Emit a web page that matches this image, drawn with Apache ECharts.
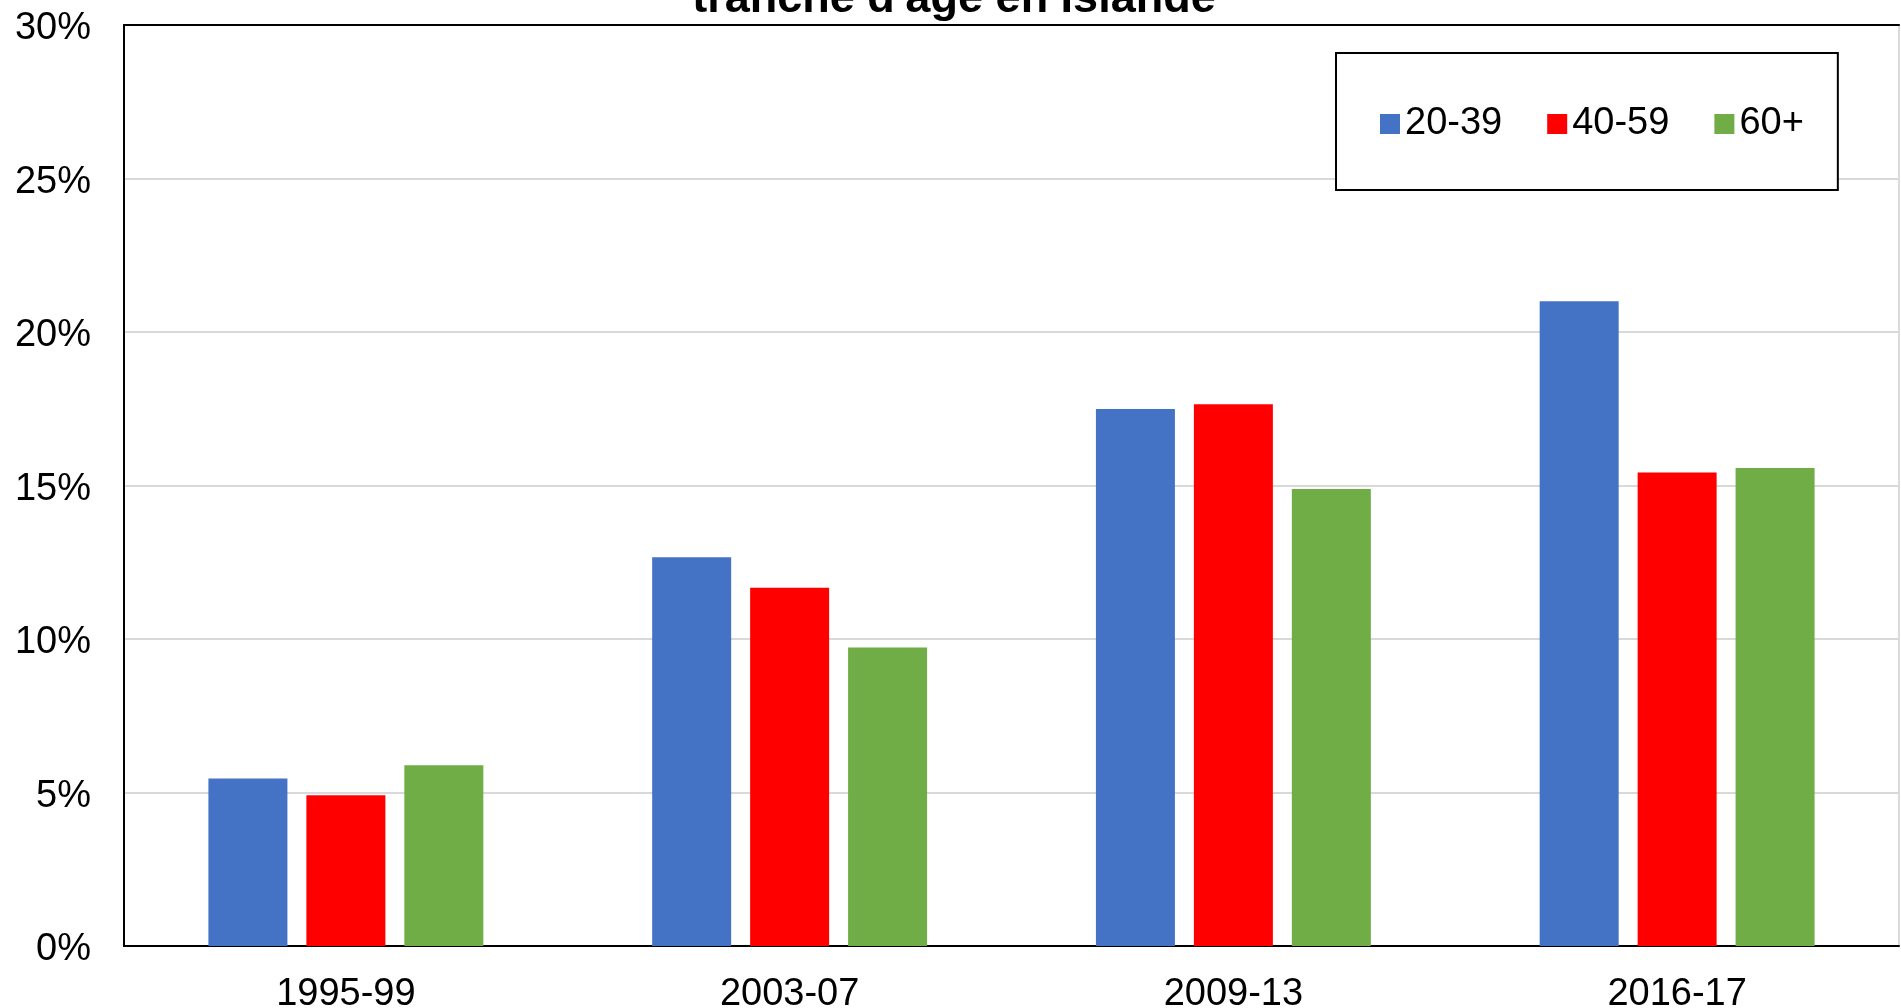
<!DOCTYPE html>
<html>
<head>
<meta charset="utf-8">
<script src="https://cdn.jsdelivr.net/npm/echarts@6/dist/echarts.min.js"></script>
<style>
html,body{margin:0;padding:0;background:#fff;}
#chart{width:1901px;height:1008px;}
</style>
</head>
<body>
<div id="chart"></div>
<script>
const categories = ['1995-99', '2003-07', '2009-13', '2016-17'];
const seriesNames = ['20-39', '40-59', '60+'];
const values2039 = [5.46, 12.66, 17.49, 21.0];
const values4059 = [4.91, 11.67, 17.65, 15.42];
const values60p = [5.89, 9.72, 14.89, 15.57];
const colors = ['#4472C4', '#FF0000', '#70AD47'];
const titleText = "tranche d'âge en Islande";

const font = '"Liberation Sans", Arial, sans-serif';
const chart = echarts.init(document.getElementById('chart'), null, {renderer: 'canvas'});
const allValues = [values2039, values4059, values60p];

chart.setOption({
  animation: false,
  backgroundColor: '#fff',
  title: {
    text: titleText,
    left: 949,
    textAlign: 'center',
    top: -28,
    textStyle: {fontFamily: font, fontSize: 45, fontWeight: 'bold', color: '#000'}
  },
  legend: {
    data: seriesNames,
    left: 1336,
    top: 53,
    orient: 'horizontal',
    icon: 'rect',
    itemWidth: 20,
    itemHeight: 20,
    itemGap: 45,
    padding: [52, 34, 47, 44],
    borderColor: '#000',
    borderWidth: 2,
    backgroundColor: '#fff',
    textStyle: {fontFamily: font, fontSize: 38, color: '#000'}
  },
  grid: {
    left: 124, right: 2, top: 25, bottom: 62,
    show: true, borderColor: '#d0d0d0', borderWidth: 1.5,
    containLabel: false, outerBoundsMode: 'none'
  },
  xAxis: [{
    type: 'category',
    data: categories,
    axisLine: {lineStyle: {color: '#000', width: 2}},
    axisTick: {show: false},
    axisLabel: {fontFamily: font, fontSize: 38, color: '#000', margin: 30}
  }, {
    type: 'category',
    position: 'top',
    data: categories,
    axisLine: {show: true, lineStyle: {color: '#000', width: 2}},
    axisTick: {show: false},
    axisLabel: {show: false},
    splitLine: {show: false}
  }],
  yAxis: {
    type: 'value',
    min: 0, max: 30, interval: 5,
    axisLine: {show: true, lineStyle: {color: '#000', width: 2}},
    axisTick: {show: false},
    axisLabel: {
      fontFamily: font, fontSize: 38, color: '#000', margin: 33,
      formatter: function (v) { return '{a|' + v + '%}'; },
      rich: {a: {fontFamily: font, fontSize: 38, color: '#000', padding: [8, 0, 0, 0]}}
    },
    splitLine: {lineStyle: {color: '#d9d9d9', width: 2}}
  },
  series: seriesNames.map((name, i) => ({
    name: name,
    type: 'bar',
    xAxisIndex: 0,
    data: allValues[i],
    barWidth: 79,
    barGap: '24%',
    itemStyle: {color: colors[i]}
  }))
});
</script>
</body>
</html>
